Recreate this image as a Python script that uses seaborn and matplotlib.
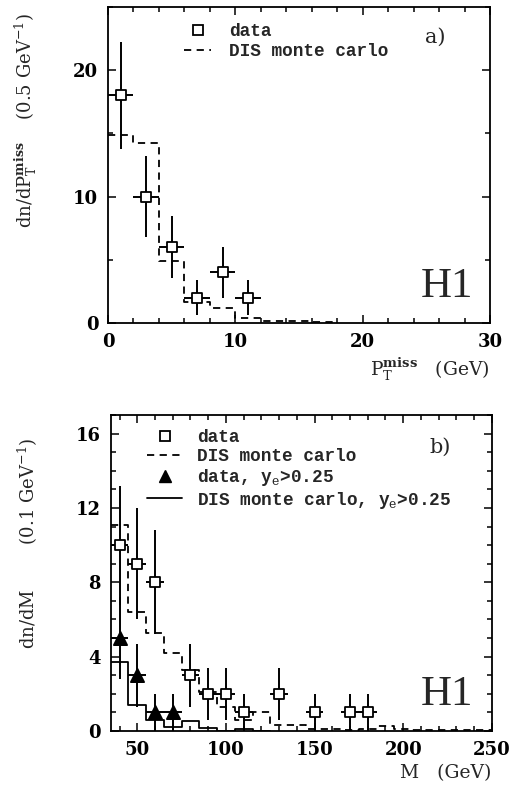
import matplotlib
matplotlib.use("Agg")
import matplotlib.pyplot as plt
from matplotlib.lines import Line2D
from matplotlib.ticker import MultipleLocator
import seaborn as sns

# ---------------- data: panel a) missing PT ----------------
pt_centers = [1, 3, 5, 7, 9, 11]
pt_counts = [18, 10, 6, 2, 4, 2]
pt_err = [4.2, 3.2, 2.45, 1.4, 2.0, 1.4]
pt_halfbin = [1, 1, 1, 1, 1, 1]
pt_mc_edges = [0, 2, 4, 6, 8, 10, 12, 14, 16, 18]
pt_mc_vals = [14.9, 14.2, 4.9, 1.7, 1.2, 0.4, 0.13, 0.13, 0.05]

# ---------------- data: panel b) invariant mass ----------------
m_centers = [40, 50, 60, 80, 90, 100, 110, 130, 150, 170, 180]
m_counts = [10, 9, 8, 3, 2, 2, 1, 2, 1, 1, 1]
m_err = [3.2, 3.0, 2.8, 1.7, 1.4, 1.4, 1.0, 1.4, 1.0, 1.0, 1.0]
m_halfbin = [5, 5, 5, 5, 5, 5, 5, 5, 5, 5, 5]

tri_centers = [40, 50, 60, 70]
tri_counts = [5, 3, 1, 1]
tri_err = [2.2, 1.7, 1.0, 1.0]
tri_halfbin = [5, 5, 5, 5]

m_mc_edges = [35, 45, 55, 65, 75, 85, 95, 105, 115, 125, 135, 145, 155, 165,
              175, 185, 195, 205, 215, 225, 235, 245, 250]
m_mc_vals = [11.1, 6.4, 5.25, 4.2, 3.3, 2.1, 1.3, 0.6, 1.0, 0.3, 0.3, 0.1,
             0.1, 0.05, 0.1, 0.25, 0.1, 0.08, 0.08, 0.05, 0.05, 0.05]

m_mc_hy_edges = [35, 45, 55, 65, 75, 85, 95, 105, 115, 125]
m_mc_hy_vals = [3.7, 1.4, 0.6, 0.2, 0.55, 0.15, 0.02, 0.13, 0.0]

legend_a = ["data", "DIS monte carlo"]
legend_b = ["data", "DIS monte carlo", r"data, y$_\mathrm{e}$>0.25",
            r"DIS monte carlo, y$_\mathrm{e}$>0.25"]

# ---------------- style ----------------
sns.set_theme(style="ticks")
plt.rcParams["font.family"] = ["DejaVu Serif"]
plt.rcParams["mathtext.fontset"] = "dejavuserif"
plt.rcParams["axes.linewidth"] = 1.3
plt.rcParams["xtick.direction"] = "in"
plt.rcParams["ytick.direction"] = "in"

fig = plt.figure(figsize=(5.13, 7.93), dpi=100)
ax1 = fig.add_axes([0.2105, 0.5927, 0.7446, 0.3985])
ax2 = fig.add_axes([0.2158, 0.0782, 0.7430, 0.3985])

legfont = dict(family="Liberation Mono", weight="bold", size=12.8)


def steps(ax, edges, vals, ls, lw=1.3):
    sns.lineplot(x=edges, y=list(vals) + [vals[-1]], drawstyle="steps-post",
                 color="black", linestyle=ls, linewidth=lw, ax=ax,
                 estimator=None, sort=False, zorder=2)


def points(ax, x, y, yerr, xerr, marker, filled, size):
    ax.errorbar(x, y, yerr=yerr, xerr=xerr, fmt="none", ecolor="black",
                elinewidth=1.4, capsize=0, zorder=3)
    sns.scatterplot(x=x, y=y, marker=marker, s=size,
                    facecolor="black" if filled else "white",
                    edgecolor="black", linewidth=1.3, ax=ax, zorder=4)


def style_axes(ax):
    ax.tick_params(which="both", top=True, right=True, labelsize=13,
                   width=1.1, colors="black")
    ax.tick_params(which="major", length=6, pad=7)
    ax.tick_params(which="minor", length=3.5)
    for lab in ax.get_xticklabels() + ax.get_yticklabels():
        lab.set_fontweight("bold")
    for s in ax.spines.values():
        s.set_color("black")


# ---- panel a ----
steps(ax1, pt_mc_edges, pt_mc_vals, (0, (4, 3)))
points(ax1, pt_centers, pt_counts, pt_err, pt_halfbin, "s", False, 55)
ax1.set_xlim(0, 30)
ax1.set_ylim(0, 25)
ax1.xaxis.set_major_locator(MultipleLocator(10))
ax1.xaxis.set_minor_locator(MultipleLocator(2))
ax1.yaxis.set_major_locator(MultipleLocator(10))
ax1.yaxis.set_minor_locator(MultipleLocator(5))
style_axes(ax1)
ax1.set_xlabel(r"P$_\mathrm{T}^\mathbf{miss}$   (GeV)", fontsize=13.5, loc="right")
ax1.set_ylabel(r"dn/dP$_\mathrm{T}^\mathbf{miss}$    (0.5 GeV$^{-1}$)", fontsize=13)
ax1.yaxis.set_label_coords(-0.18, 0.64)
ax1.text(0.856, 0.905, "a)", transform=ax1.transAxes, fontsize=15,
         ha="center", va="center")
ax1.text(0.955, 0.082, "H1", transform=ax1.transAxes, fontsize=31,
         family="Liberation Serif", ha="right", va="baseline")
h_a = [Line2D([], [], marker="s", color="black", markerfacecolor="white",
              linestyle="none", markersize=7, markeredgewidth=1.3),
       Line2D([], [], color="black", linestyle=(0, (4, 3)), linewidth=1.3)]
ax1.legend(h_a, legend_a, loc="upper left", bbox_to_anchor=(0.20, 0.948),
           frameon=False, prop=legfont, borderpad=0, borderaxespad=0,
           handlelength=1.5, handletextpad=1.0, labelspacing=0.15)

# ---- panel b ----
steps(ax2, m_mc_edges, m_mc_vals, (0, (4, 3)))
steps(ax2, m_mc_hy_edges, m_mc_hy_vals, "-")
points(ax2, m_centers, m_counts, m_err, m_halfbin, "s", False, 55)
points(ax2, tri_centers, tri_counts, tri_err, tri_halfbin, "^", True, 90)
ax2.set_xlim(35, 250)
ax2.set_ylim(0, 17)
ax2.xaxis.set_major_locator(MultipleLocator(50))
ax2.xaxis.set_minor_locator(MultipleLocator(10))
ax2.yaxis.set_major_locator(MultipleLocator(4))
ax2.yaxis.set_minor_locator(MultipleLocator(1))
style_axes(ax2)
ax2.set_xlabel("M   (GeV)", fontsize=13.5, loc="right")
ax2.set_ylabel(r"dn/dM        (0.1 GeV$^{-1}$)", fontsize=13)
ax2.yaxis.set_label_coords(-0.186, 0.595)
ax2.text(0.864, 0.899, "b)", transform=ax2.transAxes, fontsize=15,
         ha="center", va="center")
ax2.text(0.95, 0.082, "H1", transform=ax2.transAxes, fontsize=31,
         family="Liberation Serif", ha="right", va="baseline")
h_b = [Line2D([], [], marker="s", color="black", markerfacecolor="white",
              linestyle="none", markersize=7, markeredgewidth=1.3),
       Line2D([], [], color="black", linestyle=(0, (4, 3)), linewidth=1.3),
       Line2D([], [], marker="^", color="black", linestyle="none", markersize=9),
       Line2D([], [], color="black", linestyle="-", linewidth=1.3)]
ax2.legend(h_b, legend_b, loc="upper left", bbox_to_anchor=(0.095, 0.955),
           frameon=False, prop=legfont, borderpad=0, borderaxespad=0,
           handlelength=2.0, handletextpad=0.8, labelspacing=0.1)

fig.savefig("out.png", dpi=100, facecolor="white")
